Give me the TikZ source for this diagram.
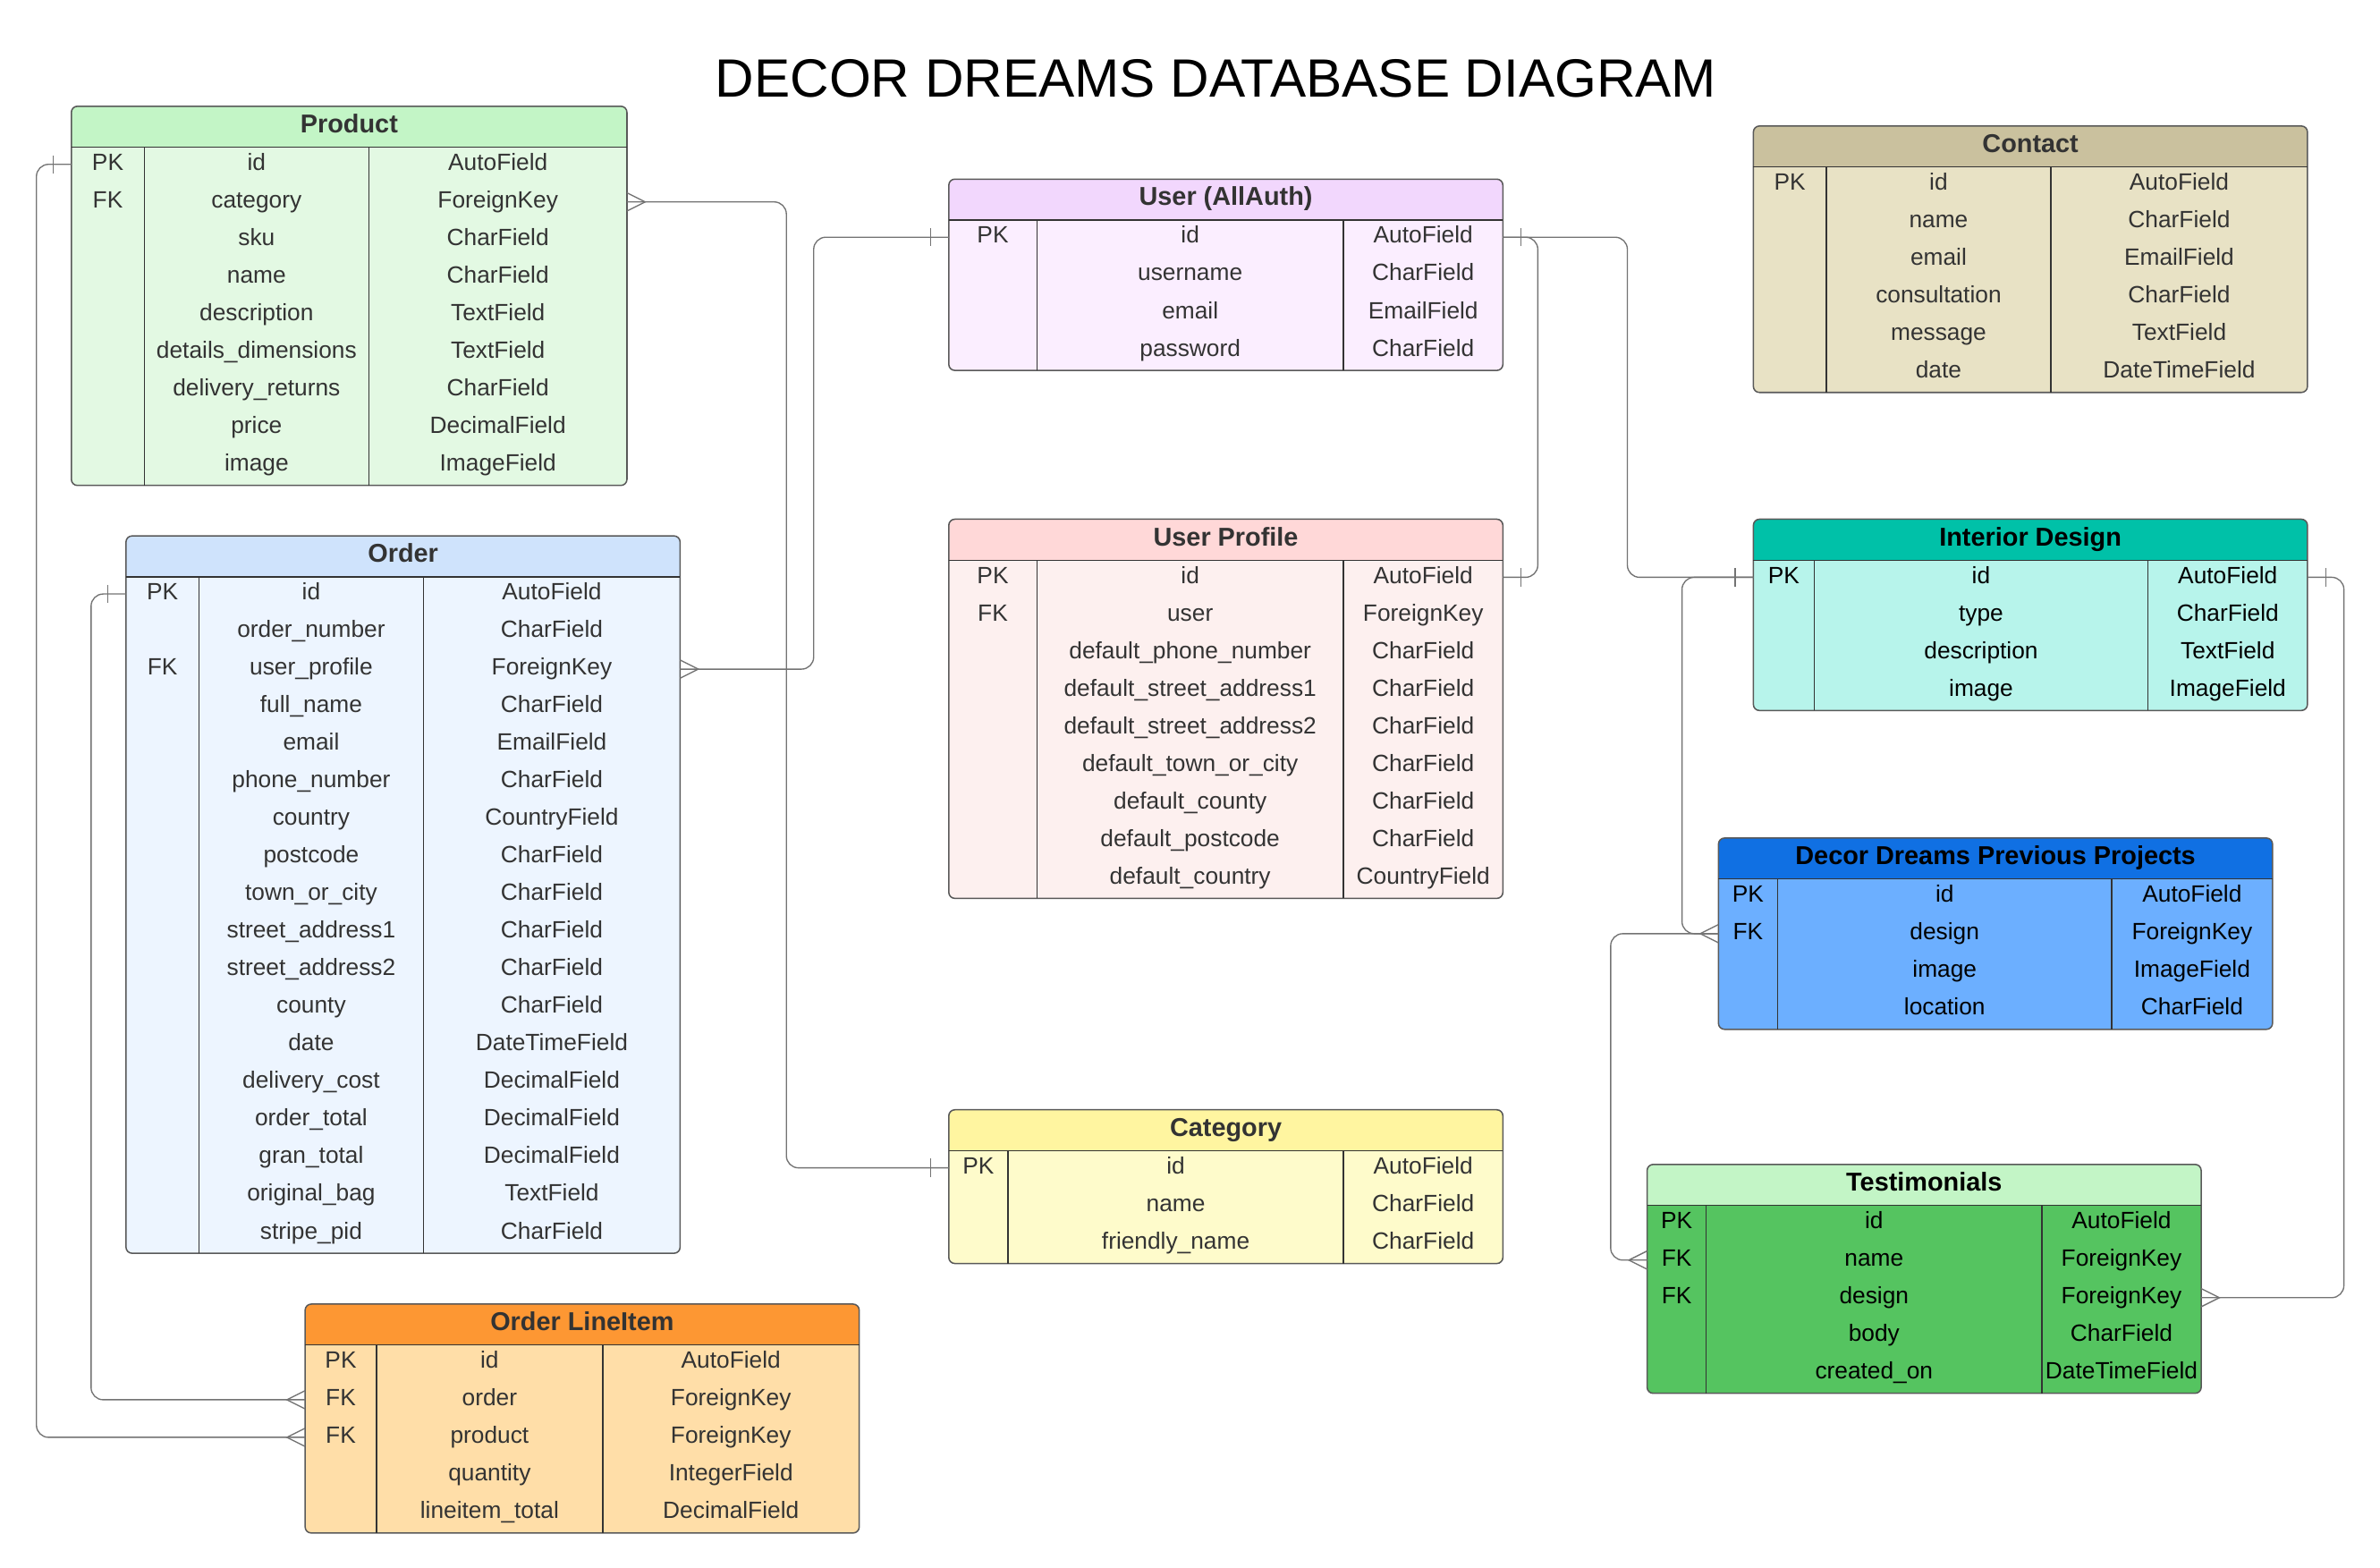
\documentclass[tikz,border=0pt]{standalone}
\usepackage{fontspec}
\setmainfont{Liberation Sans}
\usetikzlibrary{positioning, arrows.meta}

% --- colours of the tables (header / body) ---
\definecolor{prodH}{HTML}{C3F5C6} \definecolor{prodB}{HTML}{E3F9E3}
\definecolor{ordH}{HTML}{CFE3FC}  \definecolor{ordB}{HTML}{EDF5FF}
\definecolor{lineH}{HTML}{FD9733} \definecolor{lineB}{HTML}{FFDEA8}
\definecolor{userH}{HTML}{F2D7FD} \definecolor{userB}{HTML}{FBEEFF}
\definecolor{profH}{HTML}{FFD8D8} \definecolor{profB}{HTML}{FDF0EF}
\definecolor{catH}{HTML}{FFF5A0}  \definecolor{catB}{HTML}{FEFBCB}
\definecolor{contH}{HTML}{CAC19E} \definecolor{contB}{HTML}{E8E2C5}
\definecolor{intH}{HTML}{00C1A8}  \definecolor{intB}{HTML}{B7F4EB}
\definecolor{projH}{HTML}{1070E3} \definecolor{projB}{HTML}{6CAFFF}
\definecolor{testH}{HTML}{C3F5C6} \definecolor{testB}{HTML}{55C460}

% --- ER line ends: one (bar) and many (crow's foot) ---
\pgfdeclarearrow{
  name = erone,
  setup code = {
    \pgfarrowssettipend{0pt}
    \pgfarrowssetlineend{0pt}
    \pgfarrowssetbackend{-12pt}
  },
  drawing code = {
    \pgfpathmoveto{\pgfqpoint{-12pt}{6pt}}
    \pgfpathlineto{\pgfqpoint{-12pt}{-6pt}}
    \pgfusepathqstroke
  }
}
\pgfdeclarearrow{
  name = ermany,
  setup code = {
    \pgfarrowssettipend{0pt}
    \pgfarrowssetlineend{0pt}
    \pgfarrowssetbackend{-12pt}
  },
  drawing code = {
    \pgfpathmoveto{\pgfqpoint{0pt}{6pt}}
    \pgfpathlineto{\pgfqpoint{-12pt}{0pt}}
    \pgfpathlineto{\pgfqpoint{0pt}{-6pt}}
    \pgfusepathqstroke
  }
}

% #1 text colour, #2 name, #3 title, #4 top left, #5 #6 #7 column widths, #8 rows
\newcommand{\ertable}[8][black!80]{%
  \foreach \rk/\rf/\rt [count=\rowno] in {#8} {\xdef\nrows{\rowno}}
  \pgfmathsetmacro\entw{#5+#6+#7}
  \pgfmathsetmacro\enth{27+24.75*\nrows}
  \pgfmathsetmacro\entb{#5+#6}
  \node[entbox, fill=#2B, minimum width=\entw pt, minimum height=\enth pt] (#2) at #4 {};
  \fill[#2H, rounded corners=4pt] (#2.north west) rectangle ([yshift=-27pt]#2.north east);
  \fill[#2H] ([yshift=-14pt]#2.north west) rectangle ([yshift=-27pt]#2.north east);
  \draw[entline, rounded corners=4pt] (#2.north west) rectangle (#2.south east);
  \draw[divline] ([yshift=-27pt]#2.north west) -- ([yshift=-27pt]#2.north east);
  \draw[divline] ([xshift=#5pt, yshift=-27pt]#2.north west) -- ([xshift=#5pt]#2.south west);
  \draw[divline] ([xshift=\entb pt, yshift=-27pt]#2.north west) -- ([xshift=\entb pt]#2.south west);
  \node[hdrtext, text=#1] (#2-h) at ([yshift=-13pt]#2.north) {#3};
  \foreach \rk/\rf/\rt [count=\rowno] in {#8} {
    \node[cell, text=#1] (#2-k\rowno) at ([xshift={0.5*#5pt}, yshift={-(13.5+24.75*\rowno)*1pt}]#2.north west) {\rk};
    \node[cell, text=#1] (#2-n\rowno) at ([xshift={(#5+0.5*#6)*1pt}, yshift={-(13.5+24.75*\rowno)*1pt}]#2.north west) {\rf};
    \node[cell, text=#1] (#2-t\rowno) at ([xshift={(#5+#6+0.5*#7)*1pt}, yshift={-(13.5+24.75*\rowno)*1pt}]#2.north west) {\rt};
  }
}

\begin{document}
\begin{tikzpicture}[
    x=1pt, y=-1pt,
    entbox/.style  = {rectangle, rounded corners=4pt, inner sep=0pt, outer sep=0pt, anchor=north west},
    entline/.style = {draw=black!65, line width=0.9pt},
    divline/.style = {draw=black!80, line width=0.8pt},
    hdrtext/.style = {font=\bfseries\fontsize{17}{20}\selectfont, inner sep=0pt, text height=12.5pt, text depth=3.5pt},
    cell/.style    = {font=\fontsize{15.5}{18}\selectfont, inner sep=0pt, text height=11.5pt, text depth=3.5pt},
    rel/.style     = {draw=black!55, line width=0.8pt, rounded corners=8pt},
  ]
  \useasboundingbox (0,0) rectangle (1567.8,1032.8);

  \node[font=\fontsize{35.5}{42}\selectfont] (title) at (801,52) {DECOR DREAMS DATABASE DIAGRAM};

  % --- Shop tables ---
  \ertable{prod}{Product}{(47,70)}{48}{148}{170}{PK/id/AutoField, FK/category/ForeignKey,
    /sku/CharField, /name/CharField, /description/TextField, /details\_dimensions/TextField,
    /delivery\_returns/CharField, /price/DecimalField, /image/ImageField}
  \ertable{ord}{Order}{(83,353)}{48}{148}{169}{PK/id/AutoField, /order\_number/CharField,
    FK/user\_profile/ForeignKey, /full\_name/CharField, /email/EmailField,
    /phone\_number/CharField, /country/CountryField, /postcode/CharField,
    /town\_or\_city/CharField, /street\_address1/CharField, /street\_address2/CharField,
    /county/CharField, /date/DateTimeField, /delivery\_cost/DecimalField,
    /order\_total/DecimalField, /gran\_total/DecimalField, /original\_bag/TextField,
    /stripe\_pid/CharField}
  \ertable{line}{Order LineItem}{(201,859)}{47}{149}{169}{PK/id/AutoField, FK/order/ForeignKey,
    FK/product/ForeignKey, /quantity/IntegerField, /lineitem\_total/DecimalField}
  \ertable{cat}{Category}{(625,731)}{39}{221}{105}{PK/id/AutoField, /name/CharField,
    /friendly\_name/CharField}

  % --- User tables ---
  \ertable{user}{User (AllAuth)}{(625,118)}{58}{202}{105}{PK/id/AutoField, /username/CharField,
    /email/EmailField, /password/CharField}
  \ertable{prof}{User Profile}{(625,342)}{58}{202}{105}{PK/id/AutoField, FK/user/ForeignKey,
    /default\_phone\_number/CharField, /default\_street\_address1/CharField,
    /default\_street\_address2/CharField, /default\_town\_or\_city/CharField,
    /default\_county/CharField, /default\_postcode/CharField, /default\_country/CountryField}

  % --- Design tables ---
  \ertable{cont}{Contact}{(1155,83)}{48}{148}{169}{PK/id/AutoField, /name/CharField,
    /email/EmailField, /consultation/CharField, /message/TextField, /date/DateTimeField}
  \ertable[black]{int}{Interior Design}{(1155,342)}{40}{220}{105}{PK/id/AutoField,
    /type/CharField, /description/TextField, /image/ImageField}
  \ertable[black]{proj}{Decor Dreams Previous Projects}{(1132,552)}{39}{220}{106}{PK/id/AutoField,
    FK/design/ForeignKey, /image/ImageField, /location/CharField}
  \ertable[black]{test}{Testimonials}{(1085,767)}{39}{221}{105}{PK/id/AutoField,
    FK/name/ForeignKey, FK/design/ForeignKey, /body/CharField, /created\_on/DateTimeField}

  % --- Relations ---
  \draw[rel, {erone}-{ermany}] (prod-k1 -| prod.west) -- ++(-23,0) |- (line-k3 -| line.west);
  \draw[rel, {erone}-{ermany}] (ord-k1 -| ord.west) -- ++(-23,0) |- (line-k2 -| line.west);
  \draw[rel, {ermany}-{erone}] (prod-k2 -| prod.east) -- ++(105,0) |- (cat-k1 -| cat.west);
  \draw[rel, {ermany}-{erone}] (ord-k3 -| ord.east) -- ++(88,0) |- (user-k1 -| user.west);
  \draw[rel, {erone}-{erone}] (user-k1 -| user.east) -- ++(23,0) |- (prof-k1 -| prof.east);
  \draw[rel, -{erone}] (user-k1 -| user.east) -- ++(82,0) |- (int-k1 -| int.west);
  \draw[rel, {erone}-{ermany}] (int-k1 -| int.west) -- ++(-47,0) |- (proj-k2 -| proj.west);
  \draw[rel, {ermany}-] (test-k2 -| test.west) -- ++(-24,0) |- (proj-k2 -| proj.west);
  \draw[rel, {erone}-{ermany}] (int-k1 -| int.east) -- ++(24,0) |- (test-k3 -| test.east);

\end{tikzpicture}
\end{document}
